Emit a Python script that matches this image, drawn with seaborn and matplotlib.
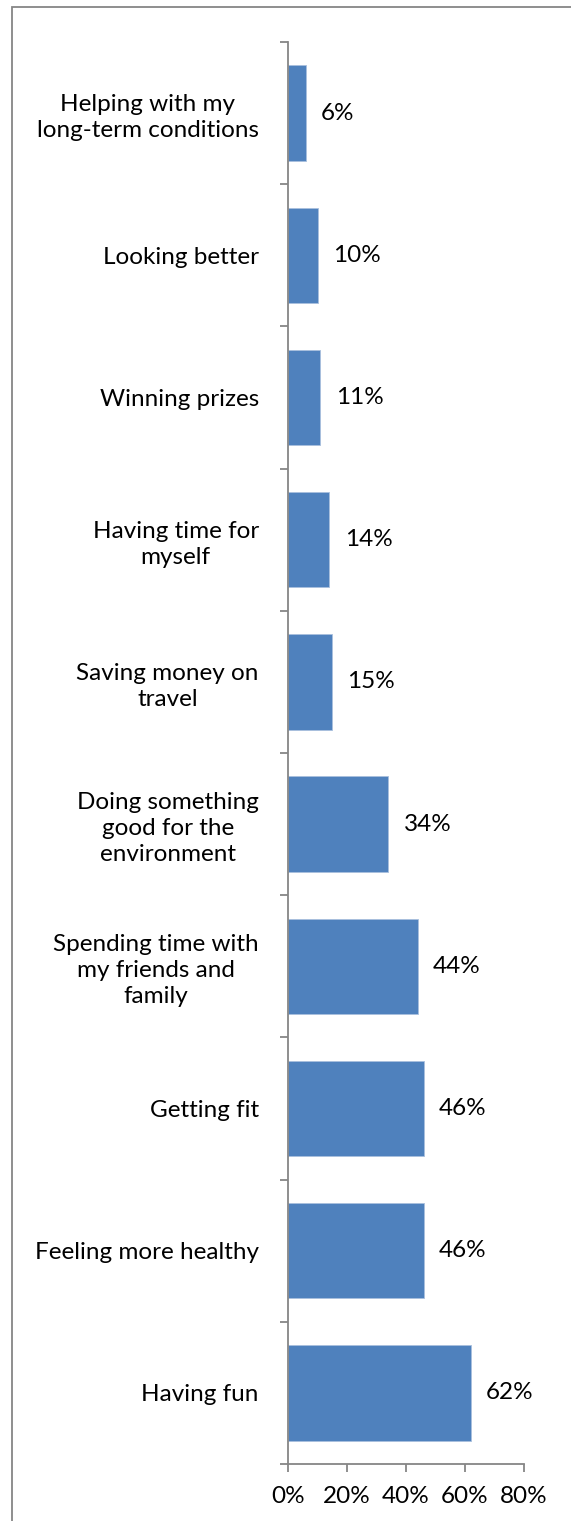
import matplotlib
matplotlib.use("Agg")
import matplotlib.pyplot as plt
import matplotlib.patches as mpatches
from matplotlib.ticker import FixedLocator, PercentFormatter
import seaborn as sns
import pandas as pd

categories = [
    "Helping with my\nlong-term conditions",
    "Looking better",
    "Winning prizes",
    "Having time for\nmyself",
    "Saving money on\ntravel",
    "Doing something\ngood for the\nenvironment",
    "Spending time with\nmy friends and\nfamily",
    "Getting fit",
    "Feeling more healthy",
    "Having fun",
]
values = [0.06, 0.10, 0.11, 0.14, 0.15, 0.34, 0.44, 0.46, 0.46, 0.62]
x_ticks = [0.0, 0.2, 0.4, 0.6, 0.8]

df = pd.DataFrame({"reason": categories, "share": values})

sns.set_theme(style="white")
plt.rcParams["font.family"] = ["Lato", "DejaVu Sans"]

FS = 17.5
W, H = 571, 1521
fig = plt.figure(figsize=(W / 100, H / 100), dpi=100)
ax = fig.add_axes([288 / W, 1 - 1464 / H, (524 - 288) / W, (1464 - 42) / H])

bar_color = "#4F81BD"
sns.barplot(data=df, y="reason", x="share", orient="h", color=bar_color,
            width=0.67, saturation=1, ax=ax, edgecolor="#a9c0de", linewidth=0.6)

ax.set_xlim(0, 0.8)
ax.set_ylim(len(categories) - 0.5, -0.5)
ax.set_xlabel("")
ax.set_ylabel("")

grey = "#868686"
for side in ("top", "right"):
    ax.spines[side].set_visible(False)
for side in ("left", "bottom"):
    ax.spines[side].set_color(grey)
    ax.spines[side].set_linewidth(1.3)

ax.xaxis.set_major_locator(FixedLocator(x_ticks))
ax.xaxis.set_major_formatter(PercentFormatter(1.0, decimals=0))
ax.tick_params(axis="x", direction="out", length=6, width=1.3, color=grey,
               labelsize=FS, labelcolor="black", pad=10, bottom=True)

ax.yaxis.set_minor_locator(FixedLocator([i - 0.5 for i in range(len(categories) + 1)]))
ax.tick_params(axis="y", which="major", length=0, labelsize=FS, labelcolor="black", pad=21)
ax.tick_params(axis="y", which="minor", direction="out", length=6, width=1.3,
               color=grey, left=True)
for lab in ax.get_yticklabels():
    lab.set_multialignment("center")
    lab.set_linespacing(1.3)

for i, v in enumerate(values):
    ax.annotate(f"{v * 100:.0f}%", xy=(v, i), xytext=(11, 0), textcoords="offset points",
                va="center", ha="left", fontsize=FS, color="black")

# outer chart frame
fig.add_artist(mpatches.Rectangle((12 / W, -0.01), 1.0, 1 - 7 / H + 0.01,
                                  transform=fig.transFigure, fill=False,
                                  edgecolor=grey, linewidth=1.3))

fig.savefig("out.png", dpi=100, facecolor="white")
